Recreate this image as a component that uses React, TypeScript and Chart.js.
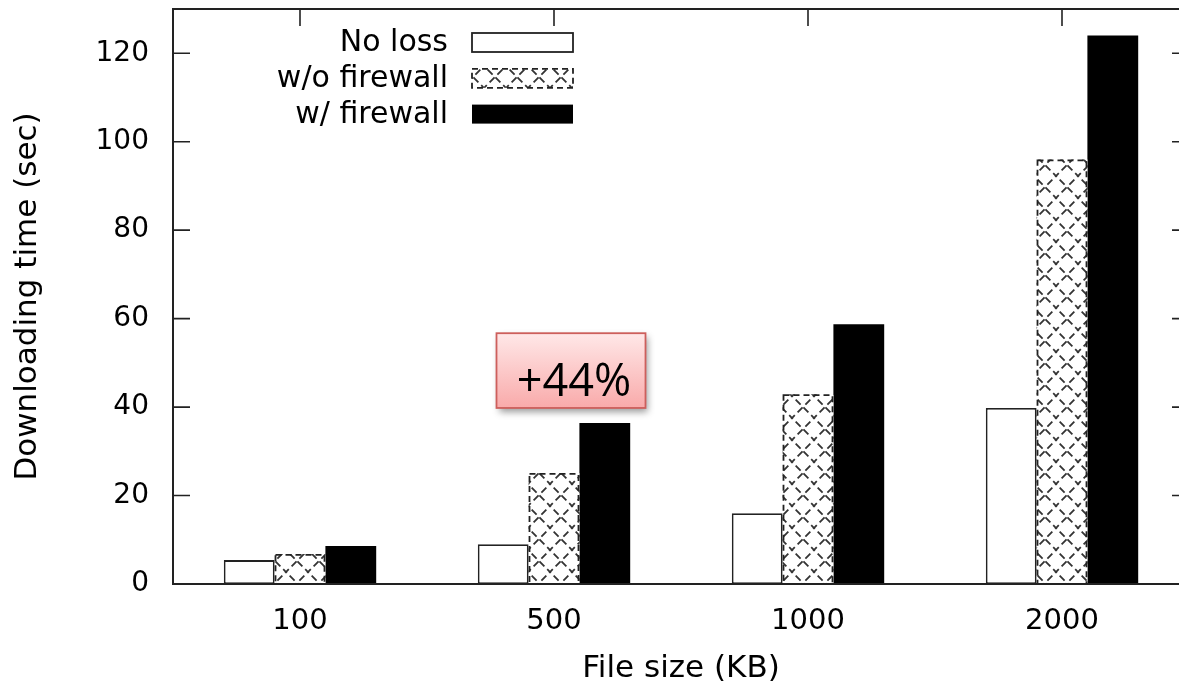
import React, { useEffect, useRef } from "react";
import { Chart, registerables } from "chart.js";

Chart.register(...registerables);

// ---- data ----
const categories = ["100", "500", "1000", "2000"];
const seriesLabels = ["No loss", "w/o firewall", "w/ firewall"];
const noLoss = [5.4, 9.0, 16.0, 39.8];
const withoutFirewall = [6.8, 25.1, 42.9, 96.0];
const withFirewall = [8.6, 36.4, 58.7, 124.0];
const yTicks = [0, 20, 40, 60, 80, 100, 120];
const yMax = 130;
const annotationText = "+44%";
const annotationCategory = 1;
const annotationRange = [39.8, 56.7];

const FONT = "'DejaVu Sans', sans-serif";

function makeHatch(): CanvasPattern | string {
  const size = 22;
  const c = document.createElement("canvas");
  c.width = size;
  c.height = size;
  const g = c.getContext("2d");
  if (!g) return "#fff";
  g.fillStyle = "#fff";
  g.fillRect(0, 0, size, size);
  g.strokeStyle = "#333";
  g.lineWidth = 1.8;
  g.setLineDash([7, 4]);
  g.lineDashOffset = 3;
  g.beginPath();
  g.moveTo(-2, -2);
  g.lineTo(size + 2, size + 2);
  g.stroke();
  g.beginPath();
  g.moveTo(size + 2, -2);
  g.lineTo(-2, size + 2);
  g.stroke();
  const p = g.createPattern(c, "repeat");
  return p || "#fff";
}

export default function App() {
  const ref = useRef<HTMLCanvasElement | null>(null);

  useEffect(() => {
    const canvas = ref.current;
    if (!canvas) return;
    const hatch = makeHatch();

    const drawDashedRect = (ctx: CanvasRenderingContext2D, l: number, t: number, w: number, h: number) => {
      ctx.save();
      ctx.strokeStyle = "#222";
      ctx.lineWidth = 1.8;
      ctx.setLineDash([6, 4]);
      ctx.strokeRect(l, t, w, h);
      ctx.restore();
    };

    const plugin = {
      id: "gnuplotFrame",
      beforeDatasetsDraw(chart: any) {
        const { ctx, chartArea: a, scales } = chart;
        const ys = scales.y;
        const xs = scales.x;
        ctx.save();
        ctx.strokeStyle = "#222";
        ctx.lineWidth = 1.6;
        ctx.beginPath();
        for (const v of yTicks) {
          const py = ys.getPixelForValue(v);
          ctx.moveTo(a.left, py);
          ctx.lineTo(a.left + 17, py);
          ctx.moveTo(a.right, py);
          ctx.lineTo(a.right - 17, py);
        }
        categories.forEach((_, i) => {
          const px = xs.getPixelForValue(i);
          ctx.moveTo(px, a.top);
          ctx.lineTo(px, a.top + 17);
          ctx.moveTo(px, a.bottom);
          ctx.lineTo(px, a.bottom - 17);
        });
        ctx.stroke();
        ctx.restore();
      },
      afterDatasetsDraw(chart: any) {
        const { ctx, chartArea: a, scales } = chart;
        // dashed outline for hatched series
        const meta = chart.getDatasetMeta(1);
        meta.data.forEach((el: any) => {
          const { x, y, base, width } = el.getProps(["x", "y", "base", "width"], true);
          drawDashedRect(ctx, x - width / 2 + 0.9, y + 0.9, width - 1.8, base - y - 0.9);
        });
        // frame
        ctx.save();
        ctx.strokeStyle = "#222";
        ctx.lineWidth = 2;
        ctx.strokeRect(a.left, a.top, a.right - a.left, a.bottom - a.top);
        ctx.restore();

        // legend
        ctx.save();
        ctx.font = `30px ${FONT}`;
        ctx.textAlign = "right";
        ctx.textBaseline = "middle";
        chart.data.datasets.forEach((ds: any, i: number) => {
          const cy = a.top + 33.5 + i * 35.8;
          ctx.fillStyle = "#000";
          ctx.fillText(ds.label, a.left + 275, cy + 1);
          const bl = a.left + 299;
          const bw = 101;
          const bh = 19;
          const bt = cy - bh / 2;
          if (i === 0) {
            ctx.fillStyle = "#fff";
            ctx.fillRect(bl, bt, bw, bh);
            ctx.strokeStyle = "#222";
            ctx.lineWidth = 1.8;
            ctx.strokeRect(bl, bt, bw, bh);
          } else if (i === 1) {
            ctx.fillStyle = ds.backgroundColor;
            ctx.fillRect(bl, bt, bw, bh);
            drawDashedRect(ctx, bl, bt, bw, bh);
          } else {
            ctx.fillStyle = "#000";
            ctx.fillRect(bl, bt, bw, bh);
          }
        });
        ctx.restore();

        // annotation callout
        const xs = scales.x;
        const ys = scales.y;
        const cx = xs.getPixelForValue(annotationCategory) + 17;
        const bw = 149;
        const top = ys.getPixelForValue(annotationRange[1]);
        const bottom = ys.getPixelForValue(annotationRange[0]);
        const left = cx - bw / 2;
        ctx.save();
        const grad = ctx.createLinearGradient(0, top, 0, bottom);
        grad.addColorStop(0, "#ffe8e8");
        grad.addColorStop(1, "#f9aaaa");
        ctx.shadowColor = "rgba(0,0,0,0.4)";
        ctx.shadowBlur = 7;
        ctx.shadowOffsetX = 2;
        ctx.shadowOffsetY = 4;
        ctx.fillStyle = grad;
        ctx.fillRect(left, top, bw, bottom - top);
        ctx.shadowColor = "transparent";
        ctx.strokeStyle = "#cd5f5c";
        ctx.lineWidth = 1.8;
        ctx.strokeRect(left, top, bw, bottom - top);
        ctx.fillStyle = "#000";
        ctx.font = `45px 'Open Sans', sans-serif`;
        ctx.textAlign = "center";
        ctx.textBaseline = "alphabetic";
        ctx.fillText(annotationText, cx + 3, bottom - 12);
        ctx.restore();
      },
    };

    const chart = new Chart(canvas, {
      type: "bar",
      data: {
        labels: categories,
        datasets: [
          {
            label: seriesLabels[0],
            data: noLoss,
            backgroundColor: "#fff",
            borderColor: "#222",
            borderWidth: 1.8,
            borderSkipped: false,
          },
          {
            label: seriesLabels[1],
            data: withoutFirewall,
            backgroundColor: hatch as any,
            borderWidth: 0,
          },
          {
            label: seriesLabels[2],
            data: withFirewall,
            backgroundColor: "#000",
            borderWidth: 0,
          },
        ],
      },
      options: {
        responsive: false,
        animation: false,
        devicePixelRatio: 1,
        datasets: {
          bar: { categoryPercentage: 0.6, barPercentage: 1 },
        },
        layout: { padding: { top: 9, right: 1, left: 0, bottom: 0 } },
        plugins: {
          legend: { display: false },
          tooltip: { enabled: false },
          title: { display: false },
        },
        scales: {
          x: {
            type: "category",
            grid: { display: false, drawTicks: false },
            border: { display: false },
            ticks: {
              color: "#000",
              font: { family: FONT, size: 29 },
              padding: 20,
              maxRotation: 0,
            },
            title: {
              display: true,
              text: "File size (KB)",
              color: "#000",
              font: { family: FONT, size: 31 },
              padding: { top: 0, bottom: 2 },
            },
            afterFit: (s: any) => {
              s.height = 106;
              s.paddingLeft = 0;
              s.paddingRight = 0;
            },
          },
          y: {
            type: "linear",
            min: 0,
            max: yMax,
            grid: { display: false, drawTicks: false },
            border: { display: false },
            ticks: {
              stepSize: 20,
              includeBounds: false,
              color: "#000",
              font: { family: FONT, size: 28 },
              padding: 24,
              callback: (v: any) => (yTicks.includes(Number(v)) ? String(v) : ""),
            },
            title: {
              display: true,
              text: "Downloading time (sec)",
              color: "#000",
              font: { family: FONT, size: 31 },
              padding: { top: 9, bottom: 0 },
            },
            afterFit: (s: any) => {
              s.width = 173;
              s.paddingTop = 0;
              s.paddingBottom = 0;
            },
          },
        },
      },
      plugins: [plugin],
    });

    return () => chart.destroy();
  }, []);

  return (
    <div
      style={{
        position: "fixed",
        left: 0,
        top: 0,
        width: 1179,
        height: 690,
        overflow: "hidden",
        background: "#fff",
      }}
    >
      <canvas ref={ref} width={1190} height={690} style={{ display: "block" }} />
    </div>
  );
}
